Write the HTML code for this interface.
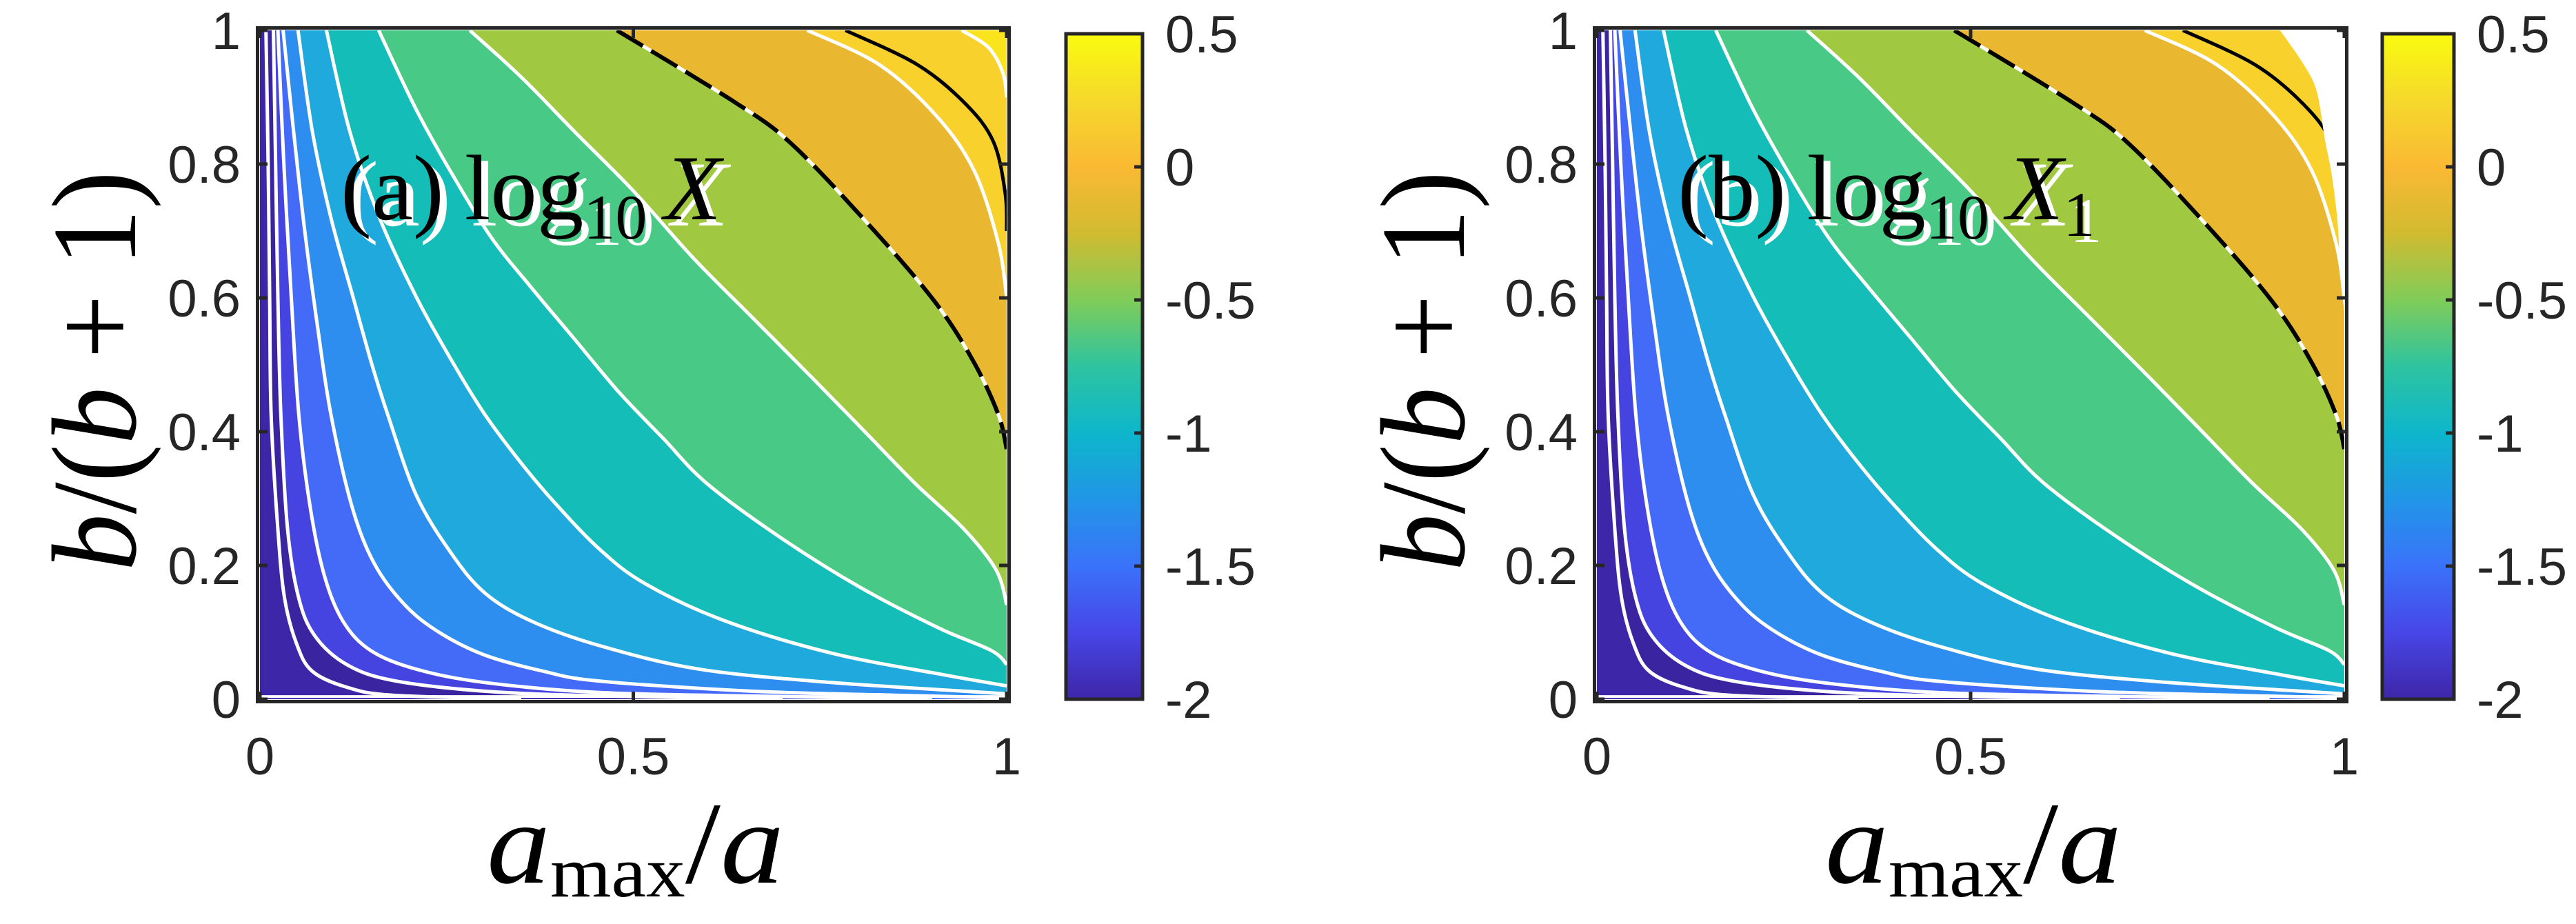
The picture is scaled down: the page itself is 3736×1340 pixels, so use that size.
<!DOCTYPE html>
<html><head><meta charset="utf-8"><style>
html,body{margin:0;padding:0;background:#fff;}
svg{display:block;}
</style></head><body>
<svg id="fig" width="3736" height="1340" viewBox="0 0 3736 1340" xmlns="http://www.w3.org/2000/svg">
<defs>
<linearGradient id="parula" x1="0" y1="1" x2="0" y2="0">
<stop offset="0" stop-color="#3e26a8"/><stop offset="0.1" stop-color="#4746e6"/><stop offset="0.2" stop-color="#3a72fa"/>
<stop offset="0.3" stop-color="#2196e6"/><stop offset="0.4" stop-color="#0db6cb"/><stop offset="0.5" stop-color="#2ec4a0"/>
<stop offset="0.6" stop-color="#80cc59"/><stop offset="0.7" stop-color="#d1bb30"/><stop offset="0.8" stop-color="#fab933"/>
<stop offset="0.9" stop-color="#f5d92b"/><stop offset="1" stop-color="#f9fb0e"/>
</linearGradient>
</defs>
<g id="panels"></g>
</svg>
<script>
// contour curves (data coords: [a_max/a, b/(b+1)]), ordered by increasing level
const W1 = [[0.008,1],[0.011,0.8],[0.013,0.6],[0.015,0.426],[0.024,0.254],[0.033,0.151],[0.049,0.083],[0.07,0.042],[0.116,0.018],[0.178,0.006],[0.35,0]];
const W2 = [[0.018,1],[0.021,0.8],[0.024,0.6],[0.028,0.426],[0.037,0.254],[0.052,0.151],[0.074,0.094],[0.116,0.052],[0.178,0.028],[0.301,0.012],[0.455,0.005],[0.7,0]];
const W3 = [[0.024,1],[0.032,0.8],[0.042,0.6],[0.052,0.426],[0.067,0.289],[0.086,0.186],[0.111,0.117],[0.148,0.073],[0.209,0.045],[0.301,0.025],[0.455,0.01],[0.7,0.004],[0.9,0]];
const W4 = [[0.031,1],[0.045,0.85],[0.06,0.7],[0.078,0.55],[0.095,0.426],[0.123,0.289],[0.153,0.203],[0.194,0.141],[0.24,0.1],[0.301,0.066],[0.379,0.042],[0.455,0.027],[0.659,0.012],[0.85,0.006],[1,0.002]];
const W5 = [[0.051,1],[0.07,0.85],[0.095,0.72],[0.125,0.6],[0.15,0.5],[0.171,0.426],[0.209,0.306],[0.255,0.22],[0.301,0.159],[0.363,0.117],[0.455,0.08],[0.588,0.045],[0.765,0.025],[0.986,0.009],[1,0.007]];
const W6 = [[0.089,1],[0.12,0.85],[0.16,0.72],[0.21,0.6],[0.26,0.5],[0.301,0.426],[0.347,0.357],[0.393,0.296],[0.455,0.224],[0.517,0.172],[0.623,0.117],[0.765,0.069],[0.908,0.038],[1,0.02]];
const W7 = [[0.159,1],[0.21,0.88],[0.26,0.78],[0.31,0.69],[0.36,0.62],[0.42,0.54],[0.48,0.46],[0.54,0.39],[0.598,0.323],[0.694,0.244],[0.801,0.169],[0.908,0.107],[0.979,0.073],[1,0.052]];
const W8 = [[0.281,1],[0.35,0.93],[0.42,0.85],[0.5,0.76],[0.58,0.66],[0.66,0.57],[0.74,0.48],[0.81,0.4],[0.877,0.323],[0.943,0.254],[0.986,0.193],[1,0.141]];
const W9 = [[0.478,1],[0.638,0.891],[0.714,0.828],[0.823,0.7],[0.906,0.591],[0.957,0.502],[0.989,0.425],[1,0.374]];
const W10 = [[0.733,1],[0.829,0.949],[0.906,0.872],[0.957,0.789],[0.989,0.681],[1,0.6]];
const W11 = [[0.94,1],[0.976,0.974],[0.995,0.936],[1,0.9]];
const BLACK_SOLID = [[0.784,1],[0.88,0.949],[0.944,0.891],[0.982,0.834],[0.998,0.757],[1,0.7]];
const CURVES = [W1,W2,W3,W4,W5,W6,W7,W8,W9,W10,W11];
const BAND_COLORS = ["#3e26a8","#3a24a0","#4544e0","#436bf8","#2e8ef0","#1fa9dc","#14bdb8","#48ca86","#a0c840","#eab830","#f8d12c","#fae41e"];
// undefined (white) region of panel b
const MASK_B = [[0.914,1],[0.945,0.95],[0.963,0.909],[0.974,0.837],[0.983,0.785],[0.991,0.713],[0.995,0.63],[1,0.58]];
const XTICKS = [0,0.5,1];
const XTICK_LABELS = ["0","0.5","1"];
const YTICKS = [0,0.2,0.4,0.6,0.8,1];
const YTICK_LABELS = ["0","0.2","0.4","0.6","0.8","1"];
const CTICKS = [-2,-1.5,-1,-0.5,0,0.5];
const CTICK_LABELS = ["-2","-1.5","-1","-0.5","0","0.5"];

const NS = "http://www.w3.org/2000/svg";
const root = document.getElementById("panels");
function mk(tag, attrs, parent){
  const e = document.createElementNS(NS, tag);
  for (const k in attrs) e.setAttribute(k, attrs[k]);
  (parent||root).appendChild(e);
  return e;
}
// smooth Catmull-Rom path through pixel points
function smooth(P){
  let d = "M" + P[0][0].toFixed(1) + " " + P[0][1].toFixed(1);
  for (let i = 0; i < P.length-1; i++){
    const p0 = P[Math.max(i-1,0)], p1 = P[i], p2 = P[i+1], p3 = P[Math.min(i+2,P.length-1)];
    const c1 = [p1[0]+(p2[0]-p0[0])/6, p1[1]+(p2[1]-p0[1])/6];
    const c2 = [p2[0]-(p3[0]-p1[0])/6, p2[1]-(p3[1]-p1[1])/6];
    d += " C" + c1[0].toFixed(1)+" "+c1[1].toFixed(1)+" "+c2[0].toFixed(1)+" "+c2[1].toFixed(1)+" "+p2[0].toFixed(1)+" "+p2[1].toFixed(1);
  }
  return d;
}
const PANELS = [
  {id:"a", X0:377, X1:1460, cb0:1543, cb1:1660, ylab:138, xlabL:706, xlabR:1137, label:"(a)", sub:""},
  {id:"b", X0:2316, X1:3400, cb0:3452, cb1:3562, ylab:2065, xlabL:2647, xlabR:3077, label:"(b)", sub:"1"}
];
const Y0 = 44, Y1 = 1014;

PANELS.forEach(function(P){
  const sx = v => P.X0 + v*(P.X1-P.X0);
  const sy = v => Y1 - v*(Y1-Y0);
  const px = c => c.map(p => [sx(p[0]), sy(p[1])]);
  const g = mk("g", {});
  
  
  const cid = "clip" + P.id;
  const cp = mk("clipPath", {id:cid}, g);
  mk("rect", {x:P.X0, y:Y0, width:P.X1-P.X0, height:Y1-Y0}, cp);
  const plot = mk("g", {"clip-path":"url(#"+cid+")"}, g);
  
  
  const bg = mk("rect", {x:P.X0, y:Y0, width:P.X1-P.X0, height:Y1-Y0, fill:BAND_COLORS[0]}, plot);
  
  
  CURVES.forEach(function(c, i){
    let d = smooth(px(c));
    const last = c[c.length-1];
    if (last[1] <= 0.0001) d += " L" + (sx(1)+6) + " " + (sy(0)+6);
    d += " L" + (sx(1)+6) + " " + (sy(1)-6) + " L" + sx(c[0][0]) + " " + (sy(1)-6) + " Z";
    const poly = mk("path", {d:d, fill:BAND_COLORS[i+1]}, plot);
    
    
  });
  CURVES.forEach(function(c, i){
    const ln = mk("path", {d:smooth(px(c)), fill:"none", stroke:"#fff", "stroke-width":5, "stroke-linejoin":"round"}, plot);
    
    
  });
  const dl = mk("path", {d:smooth(px(W9)), fill:"none", stroke:"#000", "stroke-width":6, "stroke-dasharray":"44 14"}, plot);
  
  
  const bl = mk("path", {d:smooth(px(BLACK_SOLID)), fill:"none", stroke:"#000", "stroke-width":5}, plot);
  
  
  const bline = mk("line", {x1:P.X0, x2:P.X1, y1:sy(0.004), y2:sy(0.004), stroke:"#fff", "stroke-width":4}, plot);
  
  
  if (P.id === "b") {
    let d = smooth(px(MASK_B));
    d += " L" + (sx(1)+6) + " " + sy(MASK_B[MASK_B.length-1][1]) + " L" + (sx(1)+6) + " " + (sy(1)-6) + " L" + sx(MASK_B[0][0]) + " " + (sy(1)-6) + " Z";
    const m = mk("path", {d:d, fill:"#fff"}, plot);
    
    
  }
  const fr = mk("rect", {x:P.X0-3.5, y:Y0-3.5, width:P.X1-P.X0+7, height:Y1-Y0+7, fill:"none", stroke:"#262626", "stroke-width":5}, g);
  
  
  XTICKS.forEach(function(t, i){
    const x = sx(t);
    mk("line", {x1:x, x2:x, y1:Y1+1, y2:Y1-11, stroke:"#262626", "stroke-width":5}, g);
    mk("line", {x1:x, x2:x, y1:Y0-1, y2:Y0+11, stroke:"#262626", "stroke-width":5}, g);
    const tx = mk("text", {x:x, y:1123, "text-anchor":"middle", "font-family":"Liberation Sans, sans-serif", "font-size":76, fill:"#262626"}, g);
    tx.textContent = XTICK_LABELS[i];
    
    
  });
  YTICKS.forEach(function(t, i){
    const y = sy(t);
    mk("line", {x1:P.X0-1, x2:P.X0+11, y1:y, y2:y, stroke:"#262626", "stroke-width":5}, g);
    mk("line", {x1:P.X1+1, x2:P.X1-11, y1:y, y2:y, stroke:"#262626", "stroke-width":5}, g);
    const ty = mk("text", {x:P.X0-28, y:y+27, "text-anchor":"end", "font-family":"Liberation Sans, sans-serif", "font-size":76, fill:"#262626"}, g);
    ty.textContent = YTICK_LABELS[i];
    
    
  });
  const cbTop = 49, cbBot = 1014;
  const cy = v => cbBot - (v + 2) / 2.5 * (cbBot - cbTop);
  const cb = mk("rect", {x:P.cb0+3, y:cbTop, width:P.cb1-P.cb0-6, height:cbBot-cbTop, fill:"url(#parula)", stroke:"#262626", "stroke-width":5}, g);
  
  
  CTICKS.forEach(function(t, i){
    const y = cy(t);
    mk("line", {x1:P.cb1-3, x2:P.cb1-15, y1:y, y2:y, stroke:"#262626", "stroke-width":5}, g);
    const tc = mk("text", {x:P.cb1+30, y:y+27, "font-family":"Liberation Sans, sans-serif", "font-size":76, fill:"#262626"}, g);
    tc.textContent = CTICK_LABELS[i];
    
    
  });
  const xt = mk("text", {x:P.xlabL, y:1280, "font-family":"Liberation Serif, serif", "font-size":170, fill:"#000", textLength:P.xlabR-P.xlabL, lengthAdjust:"spacingAndGlyphs"}, g);
  xt.innerHTML = '<tspan font-style="italic">a</tspan><tspan font-size="105" dy="20">max</tspan><tspan dy="-20">/</tspan><tspan font-style="italic">a</tspan>';
  
  
  const yt = mk("text", {x:0, y:0, "text-anchor":"middle", "font-family":"Liberation Serif, serif", "font-size":175, fill:"#000", transform:"translate("+(P.ylab+58)+",538) rotate(-90)", textLength:580, lengthAdjust:"spacingAndGlyphs"}, g);
  yt.innerHTML = '<tspan font-style="italic">b</tspan>/(<tspan font-style="italic">b</tspan> + 1)';
  
  
  const lx = P.X0 + 117, ly = 318;
  [["#fff",10,9],["#000",0,0]].forEach(function(s){
    const pl = mk("text", {x:lx+s[1], y:ly+s[2], "font-family":"Liberation Serif, serif", "font-size":135, fill:s[0]}, g);
    pl.innerHTML = P.label + '<tspan dx="30">log</tspan><tspan font-size="92" dy="28">10</tspan><tspan dy="-28" dx="25" font-style="italic">X</tspan>' + (P.sub ? '<tspan font-size="92" dy="24">' + P.sub + '</tspan>' : '');
    
    
  });
});
</script>
</body></html>
